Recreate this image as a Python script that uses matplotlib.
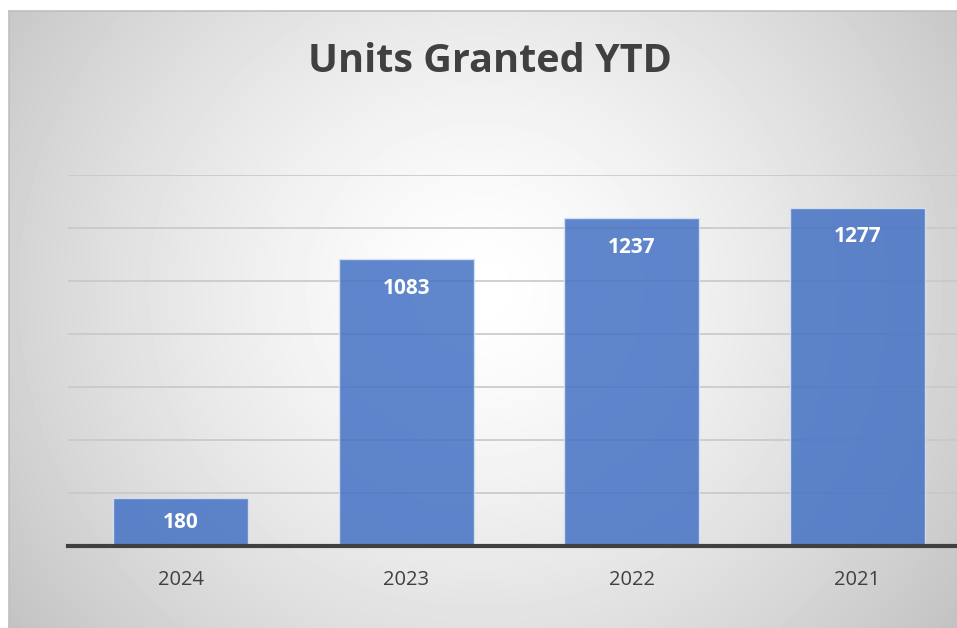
import matplotlib.pyplot as plt
import numpy as np

years = ["2024", "2023", "2022", "2021"]
units = [180, 1083, 1237, 1277]
title = "Units Granted YTD"

W, H = 957, 628
fig = plt.figure(figsize=(W / 100, H / 100), dpi=100)
fig.patch.set_facecolor("white")

# gradient background panel (white centre, grey edges), cut at right and bottom
bx0, by0 = 9, 11
bg = fig.add_axes([bx0 / W, 0, 1 - bx0 / W, (H - by0) / H])
xx, yy = np.meshgrid(np.arange(bx0, W), np.arange(by0, H))
d = np.sqrt((xx - 480) ** 2 + ((yy - 290) * 1.05) ** 2)
v = np.clip(1 - 0.22 * (d / 560) ** 1.4, 0, 1)
bg.imshow(v, cmap="gray", vmin=0, vmax=1, aspect="auto", interpolation="bilinear")
bg.set_xticks([])
bg.set_yticks([])
for s in ["right", "bottom"]:
    bg.spines[s].set_visible(False)
for s in ["top", "left"]:
    bg.spines[s].set_color("#bfbfbf")
    bg.spines[s].set_linewidth(1.2)

# plot area
left, right = 68, 970
base, top = 546, 175
ax = fig.add_axes([left / W, (H - base) / H, (right - left) / W, (base - top) / H])
ax.patch.set_alpha(0)
x = np.arange(len(years))
ax.set_xlim(-0.5, len(years) - 0.5)
ax.set_ylim(0, 1400)
ax.set_yticks(np.arange(200, 1401, 200))
ax.yaxis.grid(True, color="#c8c8c8", linewidth=1.2)
ax.set_axisbelow(True)
ax.tick_params(axis="y", left=False, labelleft=False)
ax.tick_params(axis="x", bottom=False, labelsize=14.5, labelcolor="#404040", pad=14)
for s in ["top", "right", "left"]:
    ax.spines[s].set_visible(False)
ax.spines["bottom"].set_color("#404040")
ax.spines["bottom"].set_linewidth(3)
ax.spines["bottom"].set_zorder(5)

bars = ax.bar(x, units, width=0.6, color="#4472C4", alpha=0.85,
              edgecolor="#dbe4f4", linewidth=1, zorder=3)
ax.set_xticks(x)
ax.set_xticklabels(years, family="Open Sans")

# labels inside end, but never below the bar's middle
units_per_px = 1400 / (base - top)
for xi, u in zip(x, units):
    ly = max(u - 29 * units_per_px, u / 2)
    ax.text(xi, ly, str(u), ha="center", va="center", color="white",
            fontsize=15, fontweight="bold", family="Open Sans", zorder=6)

fig.text(490 / W, 1 - 62 / H, title, ha="center", va="center",
         fontsize=28.5, fontweight="bold", color="#404040", family="Open Sans")

fig.savefig("out.png", dpi=100)
